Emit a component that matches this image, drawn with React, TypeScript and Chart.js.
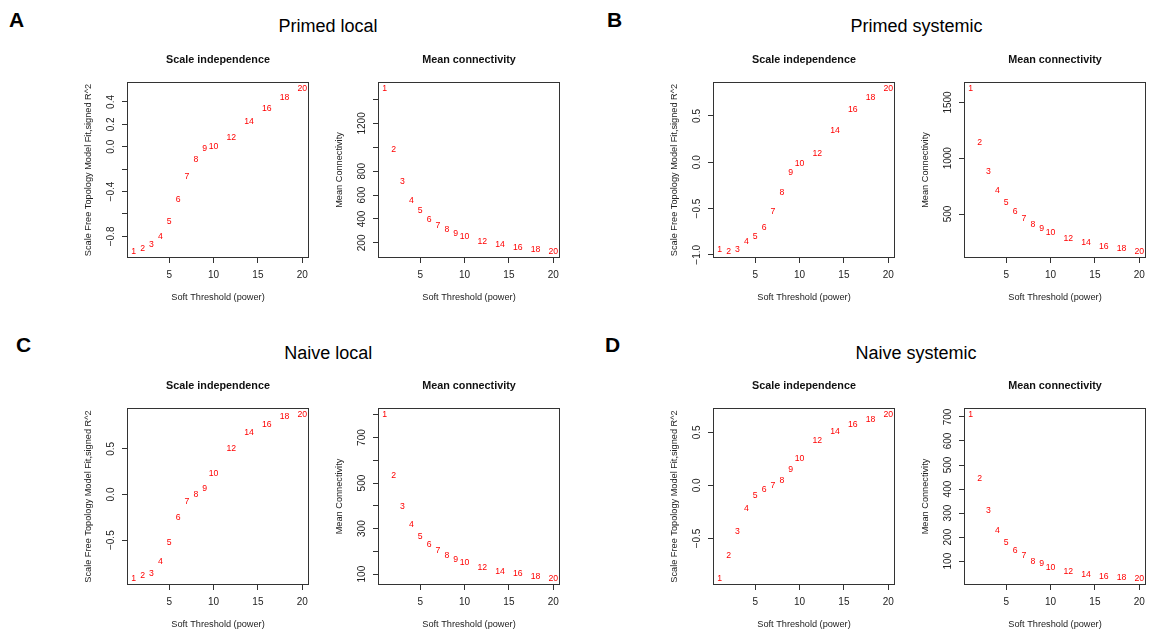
import React, { useEffect, useRef } from "react";
import { Chart, registerables } from "chart.js";

Chart.register(...registerables);

const FONT = "'Liberation Sans', Arial, Helvetica, sans-serif";

// ---- data ----
const powers = [1, 2, 3, 4, 5, 6, 7, 8, 9, 10, 12, 14, 16, 18, 20];
const xTicks = [5, 10, 15, 20];

const primedLocalFit = [-0.935, -0.905, -0.873, -0.8, -0.672, -0.472, -0.268, -0.118, -0.018, 0.0, 0.08, 0.227, 0.34, 0.44, 0.52];
const primedLocalConn = [1492, 978, 717, 558, 467, 394, 347, 308, 281, 253, 208, 183, 161, 142, 128];
const primedSystemicFit = [-0.939, -0.964, -0.939, -0.861, -0.804, -0.707, -0.532, -0.329, -0.114, -0.011, 0.089, 0.346, 0.571, 0.7, 0.796];
const primedSystemicConn = [1625, 1143, 878, 714, 598, 518, 458, 405, 369, 333, 277, 244, 205, 188, 164];
const naiveLocalFit = [-0.919, -0.893, -0.868, -0.735, -0.526, -0.25, -0.074, 0.004, 0.059, 0.232, 0.5, 0.676, 0.765, 0.849, 0.875];
const naiveLocalConn = [801, 532, 396, 316, 263, 229, 203, 181, 163, 150, 128, 109, 102, 87, 81];
const naiveSystemicFit = [-0.877, -0.661, -0.434, -0.218, -0.092, -0.038, -0.006, 0.041, 0.146, 0.25, 0.421, 0.506, 0.573, 0.62, 0.668];
const naiveSystemicConn = [710, 443, 309, 228, 178, 145, 122, 100, 89, 75, 57, 44, 36, 32, 28];

const plFitTicks = [-0.8, -0.6, -0.4, -0.2, 0, 0.2, 0.4];
const plFitLabels = ["\u22120.8", "", "\u22120.4", "", "0.0", "0.2", "0.4"];
const plConnTicks = [200, 400, 600, 800, 1000, 1200, 1400];
const plConnLabels = ["200", "400", "600", "800", "", "1200", ""];
const psFitTicks = [-1, -0.5, 0, 0.5];
const psFitLabels = ["\u22121.0", "\u22120.5", "0.0", "0.5"];
const psConnTicks = [500, 1000, 1500];
const psConnLabels = ["500", "1000", "1500"];
const nlFitTicks = [-0.5, 0, 0.5];
const nlFitLabels = ["\u22120.5", "0.0", "0.5"];
const nlConnTicks = [100, 200, 300, 400, 500, 600, 700, 800];
const nlConnLabels = ["100", "", "300", "", "500", "", "700", ""];
const nsFitTicks = [-0.5, 0, 0.5];
const nsFitLabels = ["\u22120.5", "0.0", "0.5"];
const nsConnTicks = [100, 200, 300, 400, 500, 600, 700];
const nsConnLabels = ["100", "200", "300", "400", "500", "600", "700"];

const groupTitles = ["Primed local", "Primed systemic", "Naive local", "Naive systemic"];
const groupLetters = ["A", "B", "C", "D"];
const FIT_TITLE = "Scale independence";
const CONN_TITLE = "Mean connectivity";
const FIT_YLABEL = "Scale Free Topology Model Fit,signed R^2";
const CONN_YLABEL = "Mean Connectivity";
const X_LABEL = "Soft Threshold (power)";

// ---- layout ----
const Y_W = 50;
const T_H = 36;
const X_H = 48;
const R_PAD = 12;

type PanelSpec = {
  left: number;
  right: number;
  top: number;
  bottom: number;
  title: string;
  yTitle: string;
  values: number[];
  yTicks: number[];
  yLabels: string[];
};

const COLS = [
  [127, 309],
  [378, 560],
  [713, 895],
  [964, 1146],
];
const ROWS = [
  [82, 258],
  [408, 585],
];

function mk(col: number, row: number, title: string, yTitle: string, values: number[], yTicks: number[], yLabels: string[]): PanelSpec {
  return { left: COLS[col][0], right: COLS[col][1], top: ROWS[row][0], bottom: ROWS[row][1], title, yTitle, values, yTicks, yLabels };
}

const panels: PanelSpec[] = [
  mk(0, 0, FIT_TITLE, FIT_YLABEL, primedLocalFit, plFitTicks, plFitLabels),
  mk(1, 0, CONN_TITLE, CONN_YLABEL, primedLocalConn, plConnTicks, plConnLabels),
  mk(2, 0, FIT_TITLE, FIT_YLABEL, primedSystemicFit, psFitTicks, psFitLabels),
  mk(3, 0, CONN_TITLE, CONN_YLABEL, primedSystemicConn, psConnTicks, psConnLabels),
  mk(0, 1, FIT_TITLE, FIT_YLABEL, naiveLocalFit, nlFitTicks, nlFitLabels),
  mk(1, 1, CONN_TITLE, CONN_YLABEL, naiveLocalConn, nlConnTicks, nlConnLabels),
  mk(2, 1, FIT_TITLE, FIT_YLABEL, naiveSystemicFit, nsFitTicks, nsFitLabels),
  mk(3, 1, CONN_TITLE, CONN_YLABEL, naiveSystemicConn, nsConnTicks, nsConnLabels),
];

function Panel({ spec }: { spec: PanelSpec }) {
  const ref = useRef<HTMLCanvasElement | null>(null);
  const cl = spec.left - Y_W;
  const ct = spec.top - T_H;
  const cw = spec.right - cl + R_PAD;
  const ch = spec.bottom - ct + X_H;

  useEffect(() => {
    const canvas = ref.current;
    if (!canvas) return;
    const lo = Math.min(...spec.values);
    const hi = Math.max(...spec.values);
    const ypad = (hi - lo) * 0.04;
    const xlo = Math.min(...powers);
    const xhi = Math.max(...powers);
    const xpad = (xhi - xlo) * 0.04;

    const decor = {
      id: "decor",
      afterDraw(chart: any) {
        const { ctx, chartArea: a } = chart;
        ctx.save();
        ctx.strokeStyle = "#333";
        ctx.lineWidth = 1;
        ctx.strokeRect(a.left + 0.5, a.top + 0.5, a.right - a.left - 1, a.bottom - a.top - 1);
        const ys = chart.scales.y;
        ctx.fillStyle = "#222";
        ctx.font = `10px ${FONT}`;
        ctx.textAlign = "center";
        ctx.textBaseline = "middle";
        spec.yTicks.forEach((v, i) => {
          const lab = spec.yLabels[i];
          if (!lab) return;
          const py = ys.getPixelForValue(v);
          ctx.save();
          ctx.translate(a.left - 15.7, py);
          ctx.rotate(-Math.PI / 2);
          ctx.fillText(lab, 0, 0);
          ctx.restore();
        });
        const meta = chart.getDatasetMeta(0);
        ctx.fillStyle = "#ff0000";
        ctx.font = `8.7px ${FONT}`;
        meta.data.forEach((el: any, i: number) => {
          ctx.fillText(String(powers[i]), el.x, el.y);
        });
        ctx.restore();
      },
    };

    const gridOpts = {
      display: true,
      drawOnChartArea: false,
      drawTicks: true,
      tickLength: 5,
      color: "#333",
      lineWidth: 1,
    };

    const chart = new Chart(canvas, {
      type: "scatter",
      data: {
        datasets: [
          {
            data: powers.map((x, i) => ({ x, y: spec.values[i] })),
            pointRadius: 0,
            pointHoverRadius: 0,
            showLine: false,
          },
        ],
      },
      options: {
        animation: false,
        responsive: false,
        events: [],
        layout: { padding: { left: 0, top: 0, right: R_PAD, bottom: 0 } },
        plugins: {
          legend: { display: false },
          tooltip: { enabled: false },
          title: {
            display: true,
            text: spec.title,
            fullSize: false,
            color: "#111",
            font: { family: FONT, size: 10.8, weight: "bold", lineHeight: 1.2 },
            padding: { top: 7.12, bottom: 15.92 },
          },
        },
        scales: {
          x: {
            type: "linear",
            position: "bottom",
            min: xlo - xpad,
            max: xhi + xpad,
            afterBuildTicks: (s: any) => {
              s.ticks = xTicks.map((v) => ({ value: v }));
            },
            afterFit: (s: any) => {
              s.height = X_H;
            },
            grid: gridOpts,
            border: { display: false },
            ticks: {
              font: { family: FONT, size: 10, lineHeight: 2.3 },
              color: "#222",
              padding: 0.5,
              maxRotation: 0,
              minRotation: 0,
              autoSkip: false,
            },
            title: {
              display: true,
              text: X_LABEL,
              color: "#222",
              font: { family: FONT, size: 9.2, lineHeight: 1.2 },
              padding: { top: 0, bottom: 3.1 },
            },
          },
          y: {
            type: "linear",
            position: "left",
            min: lo - ypad,
            max: hi + ypad,
            afterBuildTicks: (s: any) => {
              s.ticks = spec.yTicks.map((v) => ({ value: v }));
            },
            afterFit: (s: any) => {
              s.width = Y_W;
            },
            grid: gridOpts,
            border: { display: false },
            ticks: { display: false },
            title: {
              display: true,
              text: spec.yTitle,
              color: "#222",
              font: { family: FONT, size: 9.2, lineHeight: 1.2 },
              padding: { top: 5.48, bottom: 0 },
            },
          },
        },
      } as any,
      plugins: [decor],
    });
    return () => chart.destroy();
  }, [spec]);

  return (
    <canvas
      ref={ref}
      width={cw}
      height={ch}
      style={{ position: "absolute", left: cl, top: ct, width: cw, height: ch }}
    />
  );
}

function TextAt(props: { text: string; x: number; baseline: number; size: number; bold?: boolean; center?: boolean }) {
  const { text, x, baseline, size, bold, center } = props;
  return (
    <div
      style={{
        position: "absolute",
        left: x,
        top: baseline - 0.8465 * size,
        fontSize: size,
        lineHeight: `${size}px`,
        fontWeight: bold ? "bold" : "normal",
        fontFamily: FONT,
        whiteSpace: "nowrap",
        color: "#000",
        transform: center ? "translateX(-50%)" : undefined,
      }}
    >
      {text}
    </div>
  );
}

const titleCenters = [
  [328, 32.7],
  [916.5, 32.7],
  [328.3, 359],
  [916, 359],
];
const letterPos = [
  [9, 27],
  [607, 27],
  [16, 351.7],
  [605, 351.7],
];

export default function App() {
  return (
    <div
      style={{
        position: "fixed",
        left: 0,
        top: 0,
        width: 1149,
        height: 631,
        overflow: "hidden",
        background: "#fff",
      }}
    >
      {groupLetters.map((l, i) => (
        <TextAt key={l} text={l} x={letterPos[i][0]} baseline={letterPos[i][1]} size={21} bold />
      ))}
      {groupTitles.map((t, i) => (
        <TextAt key={t} text={t} x={titleCenters[i][0]} baseline={titleCenters[i][1]} size={18} center />
      ))}
      {panels.map((p, i) => (
        <Panel key={i} spec={p} />
      ))}
    </div>
  );
}
